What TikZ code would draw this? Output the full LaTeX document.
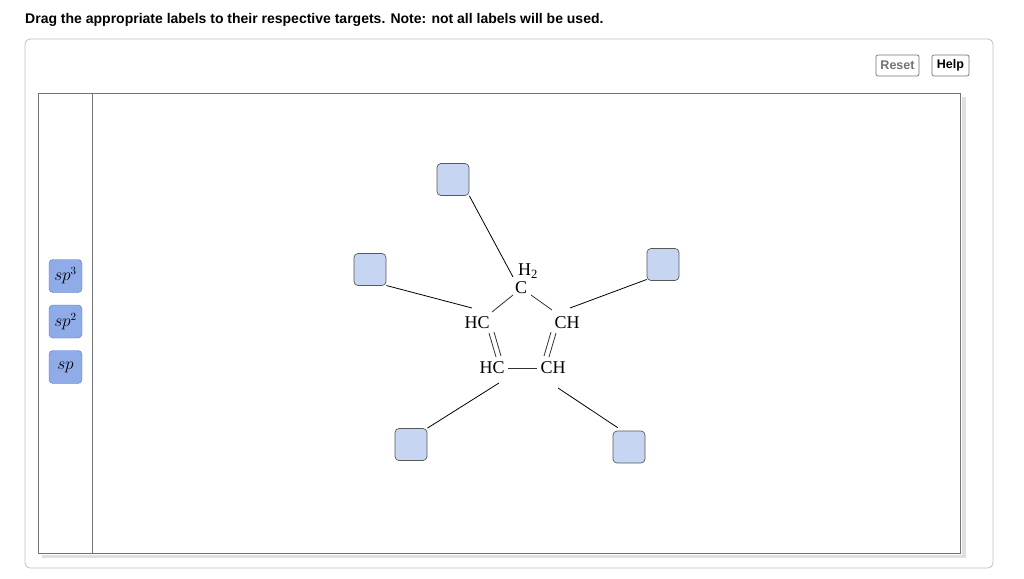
\documentclass[tikz,border=0pt]{standalone}
\usepackage{fontspec}
\setmainfont{Liberation Serif}
\newfontfamily\uisans{Liberation Sans}
\begin{document}
\begin{tikzpicture}[x=1pt,y=-1pt,
  target/.style={draw=black!65,fill={rgb,255:red,197;green,213;blue,242},rounded corners=4pt,minimum size=32pt,inner sep=0pt,line width=0.7pt},
  lbl/.style={draw={rgb,255:red,80;green,115;blue,200},fill={rgb,255:red,143;green,171;blue,232},rounded corners=4pt,minimum width=33pt,minimum height=33pt,inner sep=0pt,font=\fontsize{16}{16}\selectfont},
  btn/.style={draw=black!55,rounded corners=2pt,inner sep=0pt,minimum height=21pt,line width=0.7pt,font=\uisans\bfseries\fontsize{12.5}{12.5}\selectfont},
  atom/.style={inner sep=0pt,font=\fontsize{18}{18}\selectfont},
  conn/.style={line width=0.8pt},
  bond/.style={line width=0.8pt,black!80}]
\useasboundingbox (0,0) rectangle (1024,578);
\fill[white] (0,0) rectangle (1024,578);
\node[anchor=west,inner sep=0pt,font=\uisans\bfseries\fontsize{14}{14}\selectfont] (title) at (25,20) {Drag the appropriate labels to their respective targets. Note: not all labels will be used.};
\draw[black!25,rounded corners=5pt,line width=0.8pt] (25,39) rectangle (993,568);
\node[btn,minimum width=43pt,text=black!55] (reset) at (897.5,65.5) {Reset};
\node[btn,minimum width=37pt] (help) at (950.5,65.5) {Help};
% shadow
\fill[black!12] (962,97) rectangle (966,557);
\fill[black!12] (42,555) rectangle (966,558);
\draw[black!55,line width=0.8pt] (38,93) rectangle (960,553);
\draw[black!55,line width=0.8pt] (92,93) -- (92,553);
\node[lbl] (sp3) at (65.5,276) {$sp^3$};
\node[lbl] (sp2) at (65.5,321.5) {$sp^2$};
\node[lbl] (sp) at (65.5,367) {$sp$};
% targets
\node[target] (t1) at (453,179.5) {};
\node[target] (t2) at (370,269.5) {};
\node[target] (t3) at (663,264.5) {};
\node[target] (t4) at (411,444.5) {};
\node[target] (t5) at (629,447) {};
% atoms
\node[atom] (h2) at (528,271) {H\textsubscript{2}};
\node[atom] (c) at (521,288) {C};
\node[atom] (hcl) at (477,323) {HC};
\node[atom] (chr) at (567,323) {CH};
\node[atom] (hcb) at (492,368) {HC};
\node[atom] (chb) at (553,368) {CH};
% bonds
\draw[bond] (513,295) -- (492,312);
\draw[bond] (531,295) -- (552,310);
\draw[bond] (489,333) -- (496,357) (494,332) -- (501,356);
\draw[bond] (551,332) -- (544,356) (556,333) -- (549,357);
\draw[bond] (508,368) -- (537,368);
% connectors
\draw[conn] (t1.south east) -- (513,277);
\draw[conn] (t2.east) ++(0,16) -- (472,308);
\draw[conn] (t3.west) ++(0,15) -- (570,308);
\draw[conn] (t4.north east) -- (499,383);
\draw[conn] (t5.north west) ++(5,-3) coordinate (e5) -- (558,388);
\end{tikzpicture}
\end{document}
